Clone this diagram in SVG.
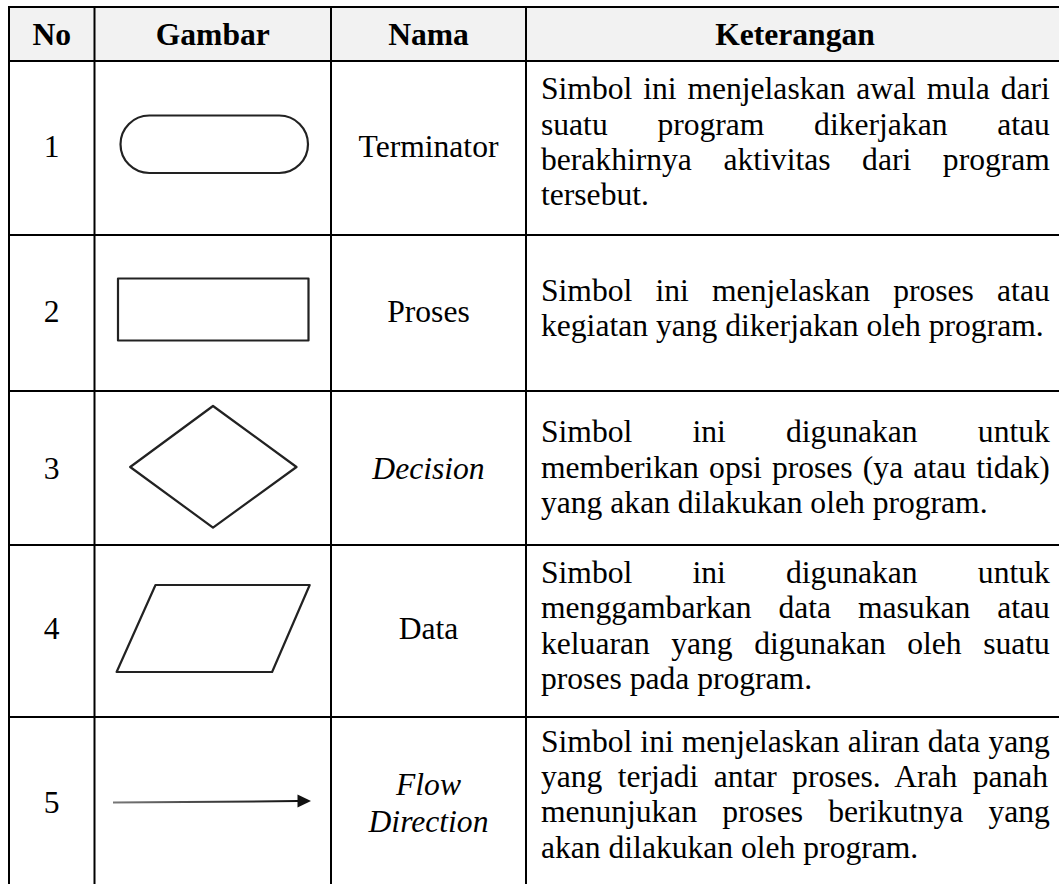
<svg xmlns="http://www.w3.org/2000/svg" width="1059" height="884" viewBox="0 0 1059 884">
<defs>
<style>
.t{font-family:"Liberation Serif","Times New Roman",serif;font-size:31.6px;fill:#000}
.h{font-weight:bold;text-anchor:middle}
.c{text-anchor:middle}
.i{font-style:italic}
.grid line{stroke:#000;stroke-width:2}
.sym{fill:none;stroke:#222;stroke-width:2.2;stroke-linejoin:round}
</style>
<linearGradient id="lg" x1="0" y1="0" x2="1" y2="0">
<stop offset="0" stop-color="#777"/>
<stop offset="1" stop-color="#111"/>
</linearGradient>
</defs>
<rect x="0" y="0" width="1059" height="884" fill="#fff"/>
<rect x="9" y="7" width="1055" height="54" fill="#f2f2f2"/>
<g id="grid" class="grid">
<line x1="8" y1="7" x2="1064" y2="7"/>
<line x1="8" y1="61" x2="1064" y2="61"/>
<line x1="8" y1="235" x2="1064" y2="235"/>
<line x1="8" y1="391" x2="1064" y2="391"/>
<line x1="8" y1="545" x2="1064" y2="545"/>
<line x1="8" y1="717" x2="1064" y2="717"/>
<line x1="9" y1="6" x2="9" y2="884"/>
<line x1="94.5" y1="6" x2="94.5" y2="884"/>
<line x1="331" y1="6" x2="331" y2="884"/>
<line x1="526" y1="6" x2="526" y2="884"/>
</g>
<g id="header" class="t h">
<text x="51.75" y="45">No</text>
<text x="212.75" y="45">Gambar</text>
<text x="428.5" y="45">Nama</text>
<text x="795" y="45">Keterangan</text>
</g>
<g id="row1">
<text class="t c" x="51.75" y="157">1</text>
<rect class="sym" x="120.5" y="115.5" width="187.5" height="57.5" rx="28.75" ry="28.75"/>
<text class="t c" x="428.5" y="157">Terminator</text>
<text class="t" x="541" y="99.3" word-spacing="2.97">Simbol ini menjelaskan awal mula dari</text>
<text class="t" x="541" y="134.6" word-spacing="41.8">suatu program dikerjakan atau</text>
<text class="t" x="541" y="169.9" word-spacing="23.7">berakhirnya aktivitas dari program</text>
<text class="t" x="541" y="205.2">tersebut.</text>
</g>
<g id="row2">
<text class="t c" x="51.75" y="322">2</text>
<rect class="sym" x="118" y="278.5" width="190.5" height="62"/>
<text class="t c" x="428.5" y="322">Proses</text>
<text class="t" x="541" y="301" word-spacing="15.3">Simbol ini menjelaskan proses atau</text>
<text class="t" x="541" y="336.3">kegiatan yang dikerjakan oleh program.</text>
</g>
<g id="row3">
<text class="t c" x="51.75" y="478.5">3</text>
<polygon class="sym" points="130.2,467 213,406 296.5,467 213,527.6"/>
<text class="t c i" x="428.5" y="478.5">Decision</text>
<text class="t" x="541" y="442" word-spacing="52.3">Simbol ini digunakan untuk</text>
<text class="t" x="541" y="477.5" word-spacing="2.28">memberikan opsi proses (ya atau tidak)</text>
<text class="t" x="541" y="513">yang akan dilakukan oleh program.</text>
</g>
<g id="row4">
<text class="t c" x="51.75" y="639">4</text>
<polygon class="sym" points="155.5,585 309.7,585 272.1,672 116.6,672"/>
<text class="t c" x="428.5" y="639">Data</text>
<text class="t" x="541" y="583" word-spacing="52.3">Simbol ini digunakan untuk</text>
<text class="t" x="541" y="618.3" word-spacing="19.0">menggambarkan data masukan atau</text>
<text class="t" x="541" y="653.6" word-spacing="13.6">keluaran yang digunakan oleh suatu</text>
<text class="t" x="541" y="689">proses pada program.</text>
</g>
<g id="row5">
<text class="t c" x="51.75" y="813">5</text>
<text class="t c i" x="428.5" y="795">Flow</text>
<text class="t c i" x="428.5" y="832">Direction</text>
<text class="t" x="541" y="751.7" word-spacing="0.16">Simbol ini menjelaskan aliran data yang</text>
<text class="t" x="541" y="787" word-spacing="7.38">yang terjadi antar proses. Arah panah</text>
<text class="t" x="541" y="822.3" word-spacing="17.25">menunjukan proses berikutnya yang</text>
<text class="t" x="541" y="857.6">akan dilakukan oleh program.</text>
</g>
<g id="connectors">
<path d="M113,802.6 L298,801.1" fill="none" stroke="url(#lg)" stroke-width="2"/>
<polygon points="297.5,794.5 311,801 297.5,807.5" fill="#111"/>
</g>
</svg>
